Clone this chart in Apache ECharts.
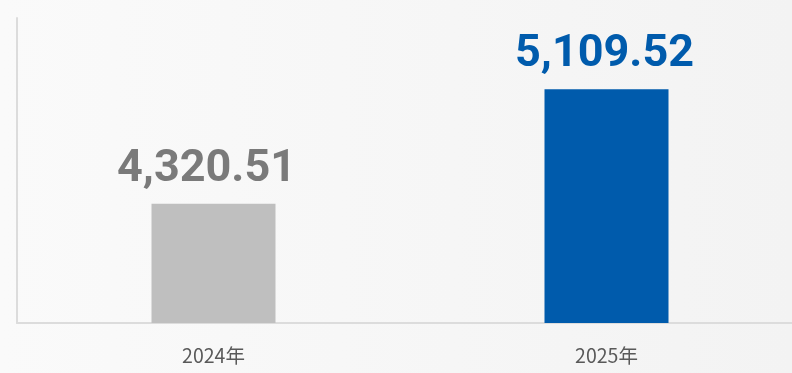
<!DOCTYPE html>
<html>
<head>
<meta charset="utf-8">
<script src="https://cdn.jsdelivr.net/npm/echarts@6/dist/echarts.min.js"></script>
<style>
html,body{margin:0;padding:0;overflow:hidden;}
#c{width:792px;height:373px;background:linear-gradient(90deg,#fafafa 0%,#f3f3f3 100%);}
</style>
</head>
<body>
<div id="c"></div>
<script>
const categories = ['2024年', '2025年'];
const values = [4320.51, 5109.52];
const barColors = ['#bfbfbf', '#005bac'];
const labelColors = ['#7a7a7a', '#005bac'];
const labelOffsets = [[-7, 0], [-2, 0]];

const chart = echarts.init(document.getElementById('c'), null, {renderer: 'canvas'});
chart.setOption({
  backgroundColor: 'transparent',
  animation: false,
  grid: {left: 17, width: 786, top: 18, bottom: 50, containLabel: false, outerBoundsMode: 'none'},
  xAxis: {
    type: 'category',
    data: categories,
    axisLine: {show: true, lineStyle: {color: '#dcdcdc', width: 2}},
    axisTick: {show: false},
    axisLabel: {color: '#595959', fontSize: 19.5, margin: 23, fontFamily: '"Noto Sans CJK SC", "Noto Sans", sans-serif'}
  },
  yAxis: {
    type: 'value',
    min: 3500,
    max: 5600,
    axisLine: {show: true, lineStyle: {color: '#dcdcdc', width: 2}},
    axisTick: {show: false},
    axisLabel: {show: false},
    splitLine: {show: false}
  },
  series: [{
    type: 'bar',
    barWidth: 124,
    data: values.map((v, i) => ({
      value: v,
      itemStyle: {color: barColors[i]},
      label: {color: labelColors[i], offset: labelOffsets[i]}
    })),
    label: {
      show: true,
      position: 'top',
      distance: 12,
      fontSize: 45,
      fontWeight: 'bold',
      fontFamily: 'Roboto, "Liberation Sans", sans-serif',
      formatter: p => p.value.toLocaleString('en-US', {minimumFractionDigits: 2, maximumFractionDigits: 2})
    }
  }]
});
</script>
</body>
</html>
